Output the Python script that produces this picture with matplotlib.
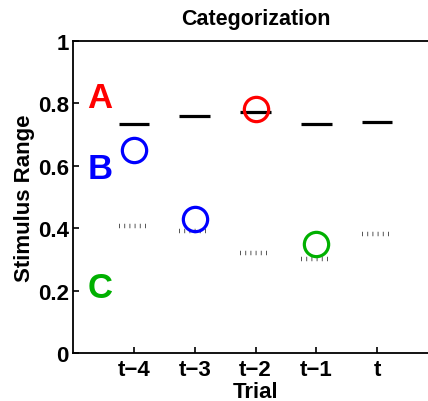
import numpy as np
import matplotlib.pyplot as plt

plt.rcParams['font.family'] = ['Liberation Sans', 'DejaVu Sans']
plt.rcParams['font.weight'] = 'bold'

# data
trials = ['t\u22124', 't\u22123', 't\u22122', 't\u22121', 't']
x = np.arange(1, 6)
upper_bound = [0.733, 0.761, 0.771, 0.733, 0.740]
lower_bound = [0.408, 0.392, 0.321, 0.301, 0.381]
stim_x = [1, 2, 3, 4]
stim_y = [0.652, 0.431, 0.782, 0.349]
stim_color = ['#0000ff', '#0000ff', '#ff0000', '#00b000']
cat_labels = ['A', 'B', 'C']
cat_y = [0.82, 0.59, 0.21]
cat_colors = ['#ff0000', '#0000ff', '#00b000']

fig = plt.figure(figsize=(4.28, 4.02), dpi=100)
ax = fig.add_axes([73 / 428, 48 / 402, 365 / 428, 312 / 402])

half = 0.25
ax.hlines(upper_bound, x - half, x + half, colors='black', linewidth=2.3)
ax.hlines(lower_bound, x - half, x + half, colors='#555555', linewidth=3.2,
          linestyles=(0, (0.22, 0.95)))

for xi, yi, c in zip(stim_x, stim_y, stim_color):
    ax.plot(xi, yi, 'o', markersize=17.5, markerfacecolor='none',
            markeredgecolor=c, markeredgewidth=2.3)

for lab, yy, c in zip(cat_labels, cat_y, cat_colors):
    ax.text(0.44, yy, lab, color=c, fontsize=25, fontweight='bold',
            ha='center', va='center')

ax.set_xlim(0, 6)
ax.set_ylim(0, 1)
ax.set_xticks(x)
ax.set_xticklabels(trials)
ax.set_yticks([0, 0.2, 0.4, 0.6, 0.8, 1])
ax.set_yticklabels(['0', '0.2', '0.4', '0.6', '0.8', '1'])
ax.tick_params(direction='in', length=4, width=1.2, labelsize=16)
ax.tick_params(axis='y', pad=3)
ax.tick_params(axis='x', pad=4)
for s in ax.spines.values():
    s.set_linewidth(1.3)

ax.set_title('Categorization', fontsize=15.5, fontweight='bold', pad=12)
ax.set_xlabel('Trial', fontsize=16, fontweight='bold', labelpad=1)
ax.set_ylabel('Stimulus Range', fontsize=16, fontweight='bold', labelpad=2)

fig.savefig('out.png', dpi=100)
